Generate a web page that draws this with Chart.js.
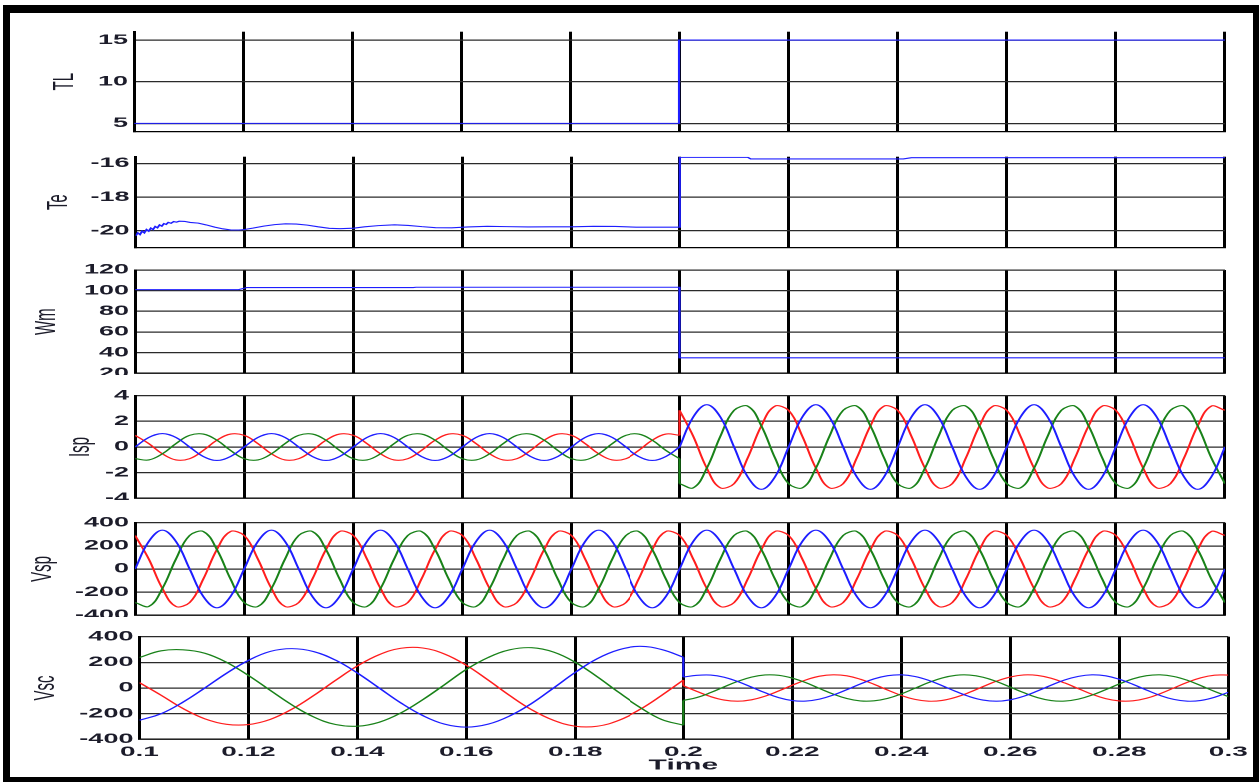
<!DOCTYPE html>
<html>
<head>
<meta charset="utf-8">
<title>Drive response 0.1 - 0.3 s</title>
<script src="https://cdn.jsdelivr.net/npm/chart.js@4.4.1/dist/chart.umd.min.js"></script>
<style>
  html, body { margin: 0; padding: 0; background: #fff; }
  body { width: 1259px; height: 782px; overflow: hidden; position: relative; }
  /* the original figure is stretched sideways, so draw narrow and scale in x */
  #fig { position: absolute; left: 0; top: 0; width: 630px; height: 782px;
         transform: scaleX(1.998413); transform-origin: 0 0; }
  .panel { position: absolute; left: 0; width: 630px; overflow: hidden; }
  .panel canvas { position: absolute; left: 0; top: 0; }
  #frame { position: absolute; left: 3px; top: 5px; width: 1256px; height: 777px;
           box-sizing: border-box; border: solid #000; border-width: 8px 6px 5px 7px;
           pointer-events: none; }
</style>
</head>
<body>
<div id="fig"></div>
<div id="frame"></div>
<script>
// Time axis
const xTicks = [0.1, 0.12, 0.14, 0.16, 0.18, 0.2, 0.22, 0.24, 0.26, 0.28, 0.3];

// Load torque TL
const tlTime = [0.1, 0.2, 0.2, 0.3];
const tlVals = [5, 5, 15, 15];
const tlTicks = [5, 10, 15];

// Electromagnetic torque Te
const teTime = [
  0.1, 0.1004, 0.1008, 0.1012, 0.1016, 0.102, 0.1024, 0.1028, 0.1032, 0.1036,
  0.104, 0.1044, 0.1048, 0.1052, 0.1056, 0.106, 0.1065, 0.107, 0.1075, 0.108,
  0.109, 0.11, 0.1115, 0.113, 0.1145, 0.116, 0.1175, 0.119, 0.12, 0.1215,
  0.1235, 0.1255, 0.1275, 0.1295, 0.1315, 0.1335, 0.1355, 0.1375, 0.14, 0.142,
  0.1445, 0.1475, 0.15, 0.1525, 0.155, 0.158, 0.161, 0.1645, 0.168, 0.172,
  0.176, 0.18, 0.184, 0.188, 0.192, 0.196, 0.2, 0.2, 0.2005, 0.2125,
  0.213, 0.241, 0.2425, 0.3
];
const teVals = [
  -20.3, -20.12, -20.22, -20.02, -20.12, -19.92, -20.02, -19.84, -19.92, -19.74,
  -19.82, -19.65, -19.72, -19.57, -19.62, -19.5, -19.55, -19.45, -19.48, -19.43,
  -19.44, -19.5, -19.54, -19.65, -19.78, -19.88, -19.95, -19.95, -19.92, -19.84,
  -19.72, -19.63, -19.58, -19.6, -19.66, -19.76, -19.85, -19.87, -19.84, -19.76,
  -19.69, -19.64, -19.68, -19.75, -19.81, -19.82, -19.77, -19.73, -19.75, -19.77,
  -19.76, -19.76, -19.73, -19.74, -19.78, -19.78, -19.78, -15.64, -15.64, -15.64,
  -15.73, -15.73, -15.66, -15.66
];
const teTicks = [-20, -18, -16];

// Rotor speed Wm
const wmTime = [0.1, 0.119, 0.1205, 0.151, 0.1515, 0.2, 0.2, 0.3];
const wmVals = [101, 101, 103, 103, 103.3, 103.3, 35, 35];
const wmTicks = [20, 40, 60, 80, 100, 120];

// Stator currents Isp, one sample every 2.5 ms
const ispStep = 0.0025;
const ispBluePre = [
  0, 0.74, 1.05, 0.74, 0, -0.74, -1.05, -0.74,
  0, 0.74, 1.05, 0.74, 0, -0.74, -1.05, -0.74,
  0, 0.74, 1.05, 0.74, 0, -0.74, -1.05, -0.74,
  0, 0.74, 1.05, 0.74, 0, -0.74, -1.05, -0.74,
  0, 0.74, 1.05, 0.74, 0, -0.74, -1.05, -0.74,
  0
];
const ispRedPre = [
  0.91, 0.27, -0.53, -1.01, -0.91, -0.27, 0.53, 1.01,
  0.91, 0.27, -0.53, -1.01, -0.91, -0.27, 0.53, 1.01,
  0.91, 0.27, -0.53, -1.01, -0.91, -0.27, 0.53, 1.01,
  0.91, 0.27, -0.53, -1.01, -0.91, -0.27, 0.53, 1.01,
  0.91, 0.27, -0.53, -1.01, -0.91, -0.27, 0.53, 1.01,
  0.91
];
const ispGreenPre = [
  -0.91, -1.01, -0.53, 0.27, 0.91, 1.01, 0.53, -0.27,
  -0.91, -1.01, -0.53, 0.27, 0.91, 1.01, 0.53, -0.27,
  -0.91, -1.01, -0.53, 0.27, 0.91, 1.01, 0.53, -0.27,
  -0.91, -1.01, -0.53, 0.27, 0.91, 1.01, 0.53, -0.27,
  -0.91, -1.01, -0.53, 0.27, 0.91, 1.01, 0.53, -0.27,
  -0.91
];
const ispBluePost = [
  0, 2.33, 3.3, 2.33, 0, -2.33, -3.3, -2.33,
  0, 2.33, 3.3, 2.33, 0, -2.33, -3.3, -2.33,
  0, 2.33, 3.3, 2.33, 0, -2.33, -3.3, -2.33,
  0, 2.33, 3.3, 2.33, 0, -2.33, -3.3, -2.33,
  0, 2.33, 3.3, 2.33, 0, -2.33, -3.3, -2.33,
  0
];
const ispRedPost = [
  2.86, 0.85, -1.65, -3.19, -2.86, -0.85, 1.65, 3.19,
  2.86, 0.85, -1.65, -3.19, -2.86, -0.85, 1.65, 3.19,
  2.86, 0.85, -1.65, -3.19, -2.86, -0.85, 1.65, 3.19,
  2.86, 0.85, -1.65, -3.19, -2.86, -0.85, 1.65, 3.19,
  2.86, 0.85, -1.65, -3.19, -2.86, -0.85, 1.65, 3.19,
  2.86
];
const ispGreenPost = [
  -2.86, -3.19, -1.65, 0.85, 2.86, 3.19, 1.65, -0.85,
  -2.86, -3.19, -1.65, 0.85, 2.86, 3.19, 1.65, -0.85,
  -2.86, -3.19, -1.65, 0.85, 2.86, 3.19, 1.65, -0.85,
  -2.86, -3.19, -1.65, 0.85, 2.86, 3.19, 1.65, -0.85,
  -2.86, -3.19, -1.65, 0.85, 2.86, 3.19, 1.65, -0.85,
  -2.86
];
const ispTicks = [-4, -2, 0, 2, 4];

// Stator voltages Vsp, one sample every 2.5 ms from 0.1 s
const vspStep = 0.0025;
const vspBlue = [
  0, 237, 335, 237, 0, -237, -335, -237,
  0, 237, 335, 237, 0, -237, -335, -237,
  0, 237, 335, 237, 0, -237, -335, -237,
  0, 237, 335, 237, 0, -237, -335, -237,
  0, 237, 335, 237, 0, -237, -335, -237,
  0, 237, 335, 237, 0, -237, -335, -237,
  0, 237, 335, 237, 0, -237, -335, -237,
  0, 237, 335, 237, 0, -237, -335, -237,
  0, 237, 335, 237, 0, -237, -335, -237,
  0, 237, 335, 237, 0, -237, -335, -237,
  0
];
const vspRed = [
  290, 87, -168, -324, -290, -87, 168, 324,
  290, 87, -168, -324, -290, -87, 168, 324,
  290, 87, -168, -324, -290, -87, 168, 324,
  290, 87, -168, -324, -290, -87, 168, 324,
  290, 87, -168, -324, -290, -87, 168, 324,
  290, 87, -168, -324, -290, -87, 168, 324,
  290, 87, -168, -324, -290, -87, 168, 324,
  290, 87, -168, -324, -290, -87, 168, 324,
  290, 87, -168, -324, -290, -87, 168, 324,
  290, 87, -168, -324, -290, -87, 168, 324,
  290
];
const vspGreen = [
  -290, -324, -168, 87, 290, 324, 168, -87,
  -290, -324, -168, 87, 290, 324, 168, -87,
  -290, -324, -168, 87, 290, 324, 168, -87,
  -290, -324, -168, 87, 290, 324, 168, -87,
  -290, -324, -168, 87, 290, 324, 168, -87,
  -290, -324, -168, 87, 290, 324, 168, -87,
  -290, -324, -168, 87, 290, 324, 168, -87,
  -290, -324, -168, 87, 290, 324, 168, -87,
  -290, -324, -168, 87, 290, 324, 168, -87,
  -290, -324, -168, 87, 290, 324, 168, -87,
  -290
];
const vTicks = [-400, -200, 0, 200, 400];

// Converter voltages Vsc: every 4 ms before the step, every 2.5 ms after
const vscStepPre = 0.004;
const vscStepPost = 0.0025;
const vscBluePre = [
  -252, -200, -110, 0, 115, 215, 285, 307, 284, 217,
  117, 0, -117, -215, -282, -305, -282, -217, -120, 0,
  122, 228, 298, 325, 300, 240
];
const vscRedPre = [
  42, -57, -160, -240, -283, -285, -245, -165, -58, 60,
  172, 260, 310, 312, 265, 177, 62, -60, -170, -252,
  -298, -298, -252, -168, -58, 62
];
const vscGreenPre = [
  238, 290, 298, 271, 200, 98, -18, -132, -226, -285,
  -298, -267, -194, -91, 26, 145, 238, 298, 314, 280,
  200, 88, -35, -150, -245, -290
];
const vscBluePost = [
  85, 99, 101, 84, 50, 7, -37, -75, -98, -102,
  -87, -55, -13, 32, 71, 96, 103, 90, 60, 18,
  -27, -67, -94, -103, -92, -64, -23, 22, 63, 91,
  103, 95, 68, 29, -16, -58, -89, -103, -97, -72,
  -34
];
const vscGreenPost = [
  -97, -74, -36, 9, 52, 85, 102, 99, 77, 41,
  -4, -47, -82, -101, -100, -81, -46, -2, 42, 78,
  99, 101, 84, 50, 7, -37, -75, -98, -102, -87,
  -55, -13, 32, 71, 96, 103, 90, 60, 18, -27,
  -67
];
const vscRedPost = [
  18, -27, -67, -94, -103, -92, -64, -23, 22, 63,
  92, 103, 95, 68, 29, -16, -58, -89, -103, -97,
  -72, -34, 11, 54, 86, 102, 98, 76, 39, -5,
  -49, -83, -101, -100, -80, -44, 0, 44, 80, 100,
  101
];

const BLUE = 'rgb(30, 30, 255)';
const RED = 'rgb(255, 30, 30)';
const GREEN = 'rgb(25, 130, 25)';
const SX = 1259 / 630;   // horizontal stretch of #fig
const W = 630;

Chart.defaults.font.family = "'Liberation Sans', Arial, sans-serif";
Chart.defaults.font.weight = 'bold';

function paired(ts, vals) {
  return ts.map((t, i) => ({ x: t, y: vals[i] }));
}
function sampled(t0, dt, vals) {
  return vals.map((v, i) => ({ x: t0 + i * dt, y: v }));
}
function line(points, color, tension) {
  return { data: points, borderColor: color, borderWidth: 1.1, pointRadius: 0,
           tension: tension || 0, fill: false };
}
// pre-step curve, post-step curve and the vertical jump at t = 0.2
function stepped(pre, preStep, post, postStep, color) {
  return [
    line(sampled(0.1, preStep, pre), color, 0.4),
    line(sampled(0.2, postStep, post), color, 0.4),
    line(paired([0.2, 0.2], [pre[pre.length - 1], post[0]]), color)
  ];
}

const panels = [
  { title: 'TL', top: 31.7, bottom: 131.7, left: 134, right: 1225, titleX: 65,
    min: 4, max: 16, ticks: tlTicks,
    datasets: [line(paired(tlTime, tlVals), BLUE)] },
  { title: 'Te', top: 156.7, bottom: 247.7, left: 135.5, right: 1225, titleX: 59,
    min: -21, max: -15.6, ticks: teTicks,
    datasets: [line(paired(teTime, teVals), BLUE)] },
  { title: 'Wm', top: 270, bottom: 373.3, left: 135, right: 1225, titleX: 47,
    min: 20, max: 120, ticks: wmTicks,
    datasets: [line(paired(wmTime, wmVals), BLUE)] },
  { title: 'Isp', top: 395.7, bottom: 498.3, left: 135, right: 1225, titleX: 81,
    min: -4, max: 4, ticks: ispTicks,
    datasets: [].concat(
      stepped(ispBluePre, ispStep, ispBluePost, ispStep, BLUE),
      stepped(ispGreenPre, ispStep, ispGreenPost, ispStep, GREEN),
      stepped(ispRedPre, ispStep, ispRedPost, ispStep, RED)) },
  { title: 'Vsp', top: 522.7, bottom: 615.3, left: 135, right: 1225, titleX: 43,
    min: -400, max: 400, ticks: vTicks,
    datasets: [
      line(sampled(0.1, vspStep, vspBlue), BLUE, 0.4),
      line(sampled(0.1, vspStep, vspGreen), GREEN, 0.4),
      line(sampled(0.1, vspStep, vspRed), RED, 0.4)] },
  { title: 'Vsc', top: 636.7, bottom: 739.3, left: 139.3, right: 1228.3, titleX: 46,
    min: -400, max: 400, ticks: vTicks, last: true,
    datasets: [].concat(
      stepped(vscBluePre, vscStepPre, vscBluePost, vscStepPost, BLUE),
      stepped(vscGreenPre, vscStepPre, vscGreenPost, vscStepPost, GREEN),
      stepped(vscRedPre, vscStepPre, vscRedPost, vscStepPost, RED)) }
];

const fig = document.getElementById('fig');

panels.forEach(p => {
  const xAxisH = p.last ? 35 : 0;
  const canvasTop = Math.floor(p.top - 14);
  const canvasBottom = Math.ceil(p.bottom + xAxisH + (p.last ? 3 : 14));
  const wrap = document.createElement('div');
  wrap.className = 'panel';
  wrap.style.top = canvasTop + 'px';
  // upper panels cut their lowest tick label at the axis, as in the figure
  wrap.style.height = (p.last ? canvasBottom - canvasTop : p.bottom + 1.5 - canvasTop) + 'px';
  const canvas = document.createElement('canvas');
  canvas.width = W;
  canvas.height = canvasBottom - canvasTop;
  wrap.appendChild(canvas);
  fig.appendChild(wrap);

  new Chart(canvas, {
    type: 'line',
    data: { datasets: p.datasets },
    options: {
      responsive: false,
      animation: false,
      devicePixelRatio: 2,
      events: [],
      layout: {
        padding: {
          left: 0,
          right: W - p.right / SX,
          top: p.top - canvasTop,
          bottom: canvasBottom - p.bottom - xAxisH
        }
      },
      plugins: { legend: { display: false }, tooltip: { enabled: false } },
      scales: {
        x: {
          type: 'linear',
          min: 0.1,
          max: 0.3,
          afterBuildTicks: s => { s.ticks = xTicks.map(v => ({ value: v })); },
          afterFit: s => { s.height = xAxisH; },
          grid: { color: '#000', lineWidth: 1.5, drawTicks: false },
          border: { color: '#000', width: 1.2 },
          ticks: {
            display: !!p.last,
            padding: 4.5,
            maxRotation: 0,
            color: '#1c1c2a',
            font: { size: 14 },
            callback: v => String(+v.toFixed(2))
          },
          title: { display: !!p.last, text: 'Time', color: '#1c1c2a',
                   font: { size: 15 }, padding: 0 }
        },
        y: {
          min: p.min,
          max: p.max,
          afterBuildTicks: s => { s.ticks = p.ticks.map(v => ({ value: v })); },
          afterFit: s => { s.width = p.left / SX; },
          grid: { color: '#2a2a2a', lineWidth: 1.2, drawTicks: false },
          border: { color: '#000', width: 1.5 },
          ticks: { padding: 3, color: '#1c1c2a', font: { size: 13.5 },
                   callback: v => String(v) },
          title: { display: true, text: p.title, color: '#1c1c2a',
                   font: { size: 15, weight: 'normal' },
                   padding: { top: p.titleX / SX - 9, bottom: 0 } }
        }
      }
    }
  });
});
</script>
</body>
</html>
